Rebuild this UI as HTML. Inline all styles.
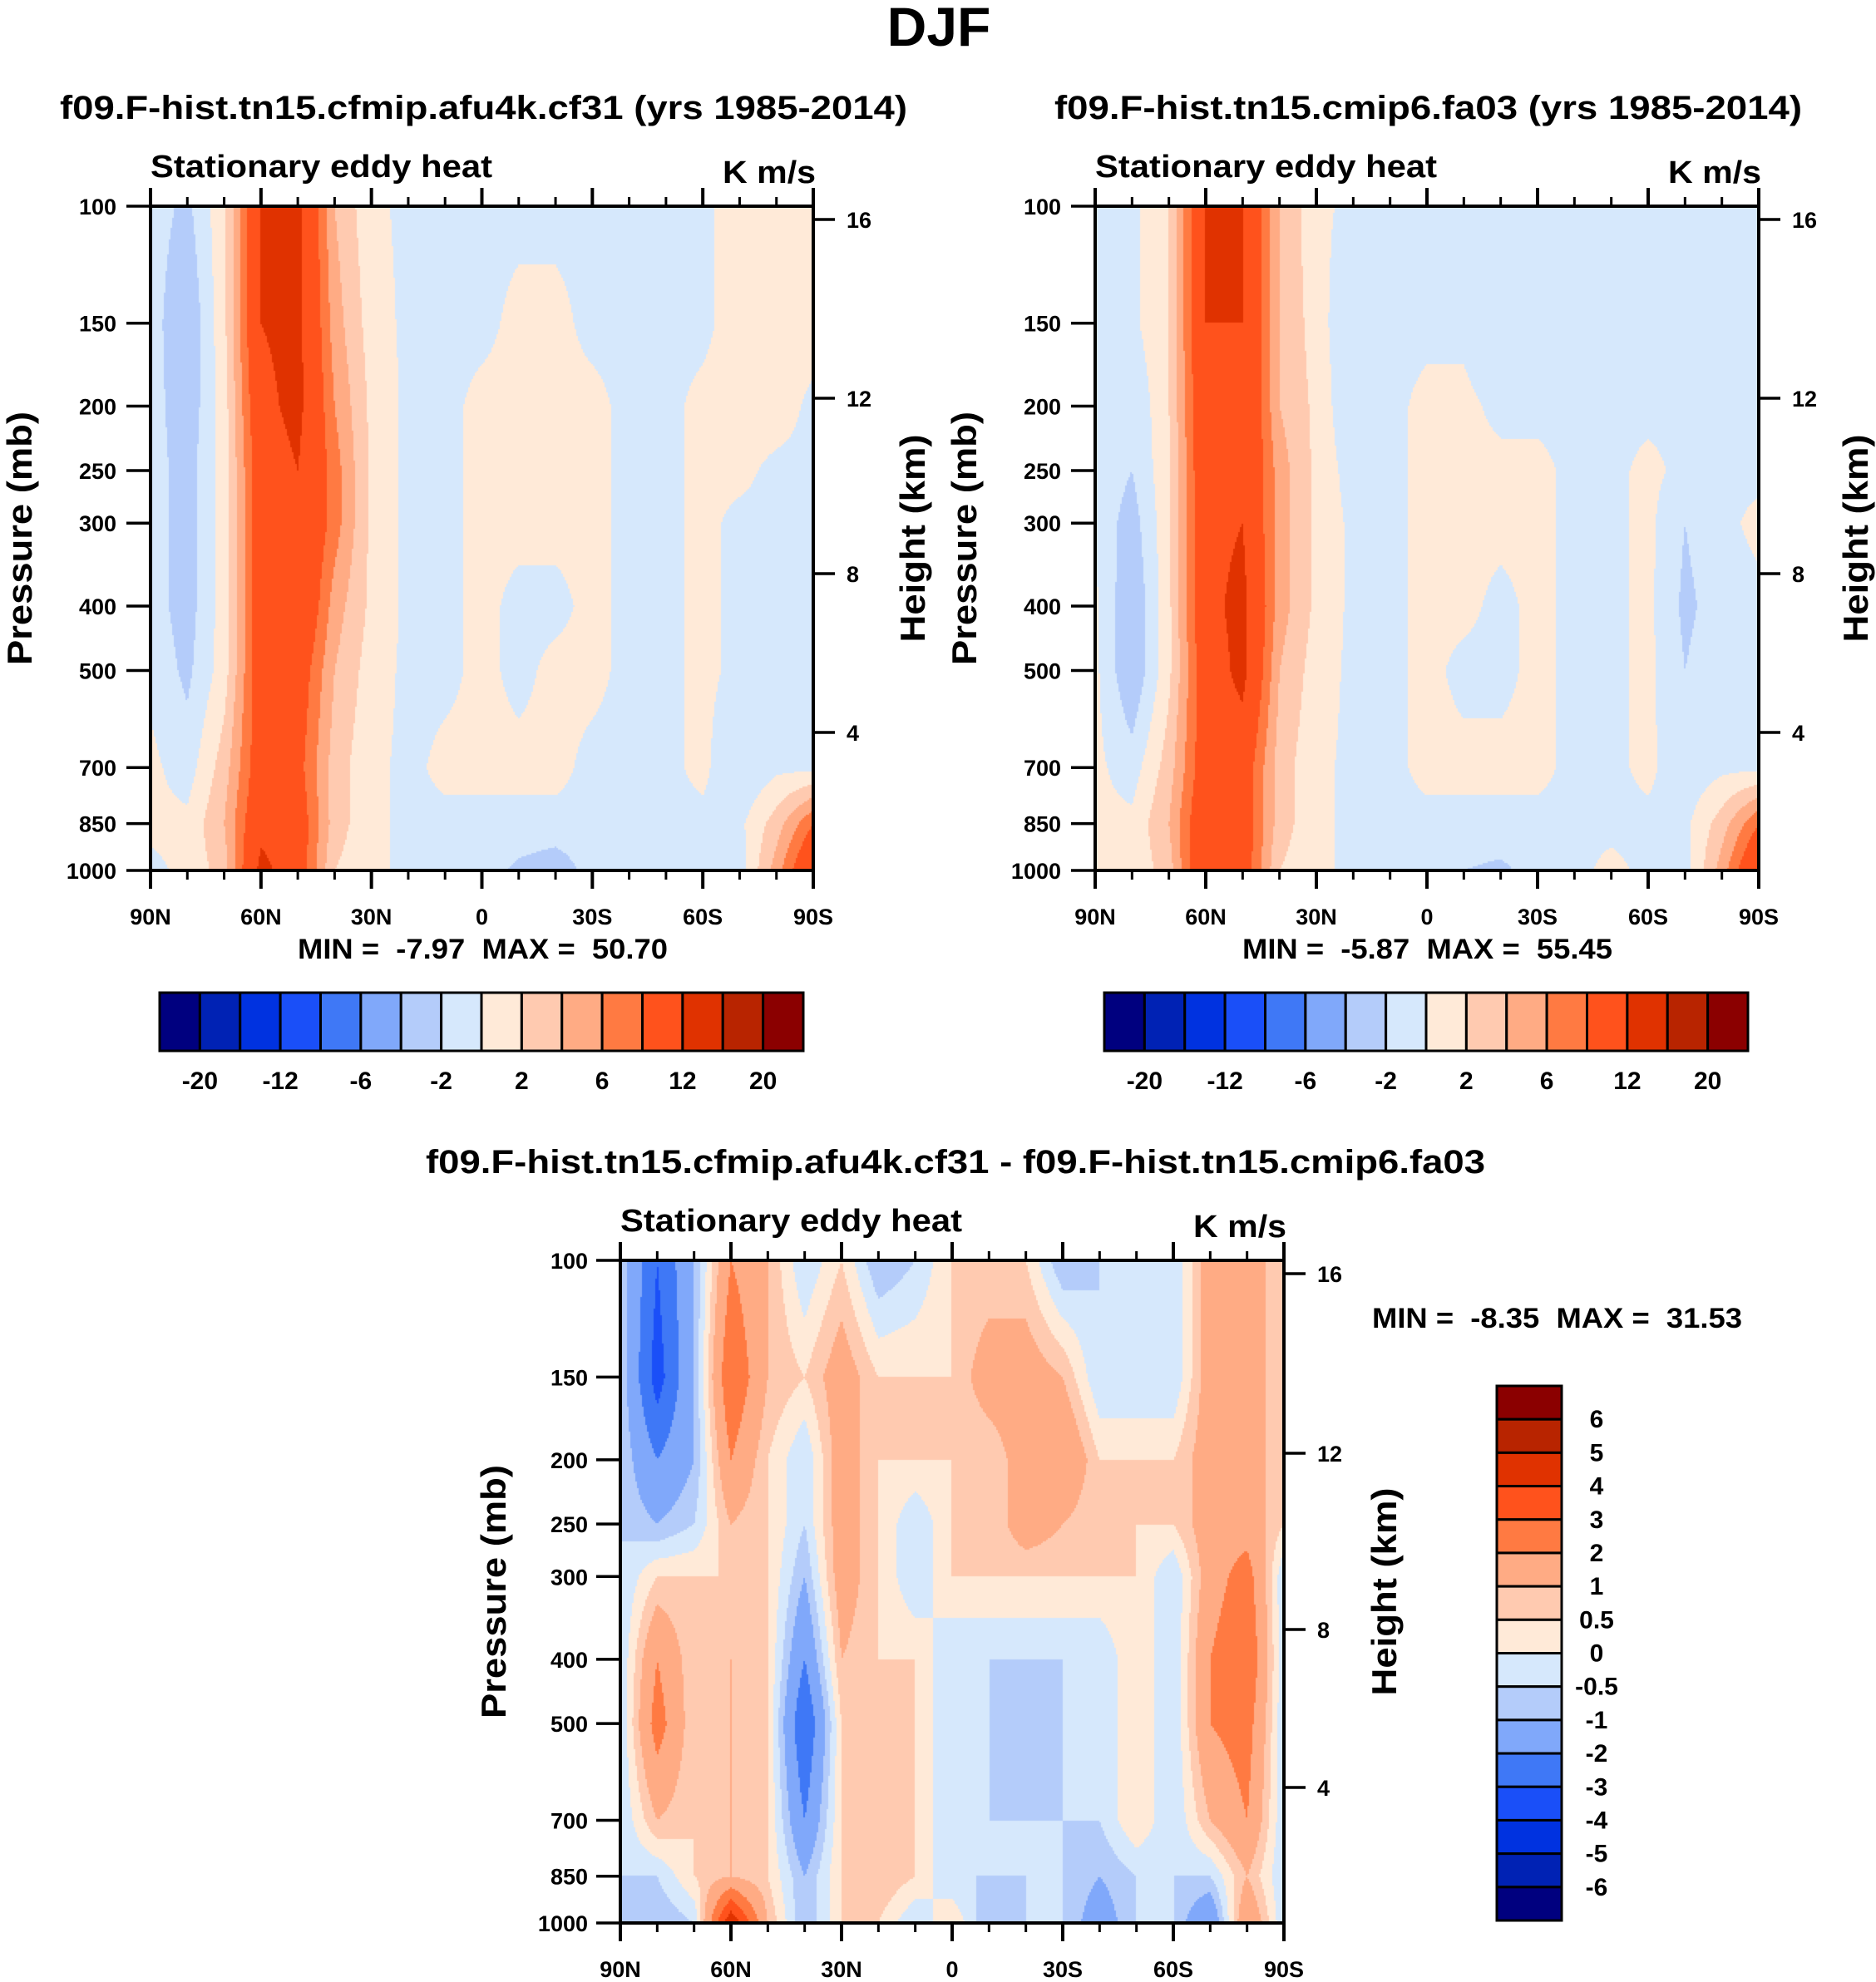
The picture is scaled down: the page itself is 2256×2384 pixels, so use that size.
<!DOCTYPE html>
<html><head><meta charset="utf-8"><style>
html,body{margin:0;padding:0;background:#fff;}
svg{display:block;font-family:"Liberation Sans",sans-serif;font-weight:bold;}
canvas{position:absolute;}
</style></head><body>
<div style="position:relative;width:2256px;height:2384px;overflow:hidden;">
<canvas id="c1" width="797" height="799" style="left:181px;top:248px"></canvas>
<canvas id="c2" width="798" height="799" style="left:1317px;top:248px"></canvas>
<canvas id="c3" width="798" height="797" style="left:746px;top:1516px"></canvas>
<svg id="s" width="2256" height="2384" style="position:absolute;left:0;top:0">
<text x="1129" y="55" font-size="66" text-anchor="middle">DJF</text>
</svg>
</div>
<script>
const lats=[90,80,70,60,50,40,30,20,10,0,-10,-20,-30,-40,-50,-60,-70,-80,-90];
const pres=[100,150,200,250,300,400,500,700,850,1000];
const presTicks=[100,150,200,250,300,400,500,700,850,1000];
const latTickLabels=["90N","60N","30N","0","30S","60S","90S"];
const heightTickLabels=["16","12","8","4"];
const absLevels=[-20,-16,-12,-8,-6,-4,-2,0,2,4,6,8,12,16,20];
const absLevelLabels=["-20","-12","-6","-2","2","6","12","20"];
const diffLevels=[-6,-5,-4,-3,-2,-1,-0.5,0,0.5,1,2,3,4,5,6];
const diffLevelLabels=["6","5","4","3","2","1","0.5","0","-0.5","-1","-2","-3","-4","-5","-6"];
const colors=["#00007f","#0022b4","#0032e0","#1a4ff8","#3f78f6","#80a8fa","#b4ccfa","#d6e8fc","#ffead8","#ffcab0","#ffab84","#ff7a42","#ff521c","#e03200","#b82400","#8b0000"];

const field1=[
[-1,-2.5,1.5,12,13,4,0.5,-0.5,-0.5,-0.5,-0.5,-0.5,-0.5,-0.5,-0.5,-0.5,1,1,1],
[-1,-4,1.5,12,13,5,1,-0.5,-0.5,-0.5,0.5,0.5,-0.5,-0.5,-0.5,-0.5,1,1,1],
[-1,-3.5,1,11,13,6,1.5,-0.5,-0.5,0.5,0.5,0.5,0.5,-0.5,-0.5,0.5,1,1,-0.5],
[-1,-3,1,10,12,7,1.5,-0.5,-0.5,0.5,0.5,0.5,0.5,-0.5,-0.5,0.5,0.5,-0.5,-0.5],
[-1,-3,1,10,12,7,1.5,-0.5,-0.5,0.5,0.5,0.5,0.5,-0.5,-0.5,0.5,-0.5,-0.5,-0.5],
[-1,-3,1,10,12,5,1.5,-0.5,-0.5,0.5,-0.5,-0.5,0.5,-0.5,-0.5,0.5,-0.5,-0.5,-0.5],
[-0.5,-2.5,1,10,10,4,1,-0.5,-0.5,0.5,-0.5,0.5,0.5,-0.5,-0.5,0.5,-0.5,-0.5,-0.5],
[0.5,-1,3,10,9,3,0.5,-0.5,0.5,0.5,0.5,0.5,-0.5,-0.5,-0.5,0.5,-2,-0.5,-0.5],
[0.5,0.5,4,11,10,3,0.5,-0.5,-0.5,-0.5,-0.5,-0.5,-0.5,-0.5,-0.5,-0.5,-0.5,3,8],
[-0.5,0.5,3,13,10,2,0.5,-0.5,-0.5,-1,-2.5,-3.5,-1,-0.5,-0.5,-0.5,-1,5,12]];
const field2=[
[-0.5,-0.5,2,12,12,4,0.5,-0.5,-0.5,-0.5,-0.5,-0.5,-0.5,-0.5,-0.5,-0.5,-0.5,-0.5,-0.5],
[-0.5,-0.5,2,12,12,4,1,-2,-0.5,-0.5,-0.5,-2,-0.5,-0.5,-0.5,-0.5,-0.5,-0.5,-0.5],
[-0.5,-2,2,11,12,4,1.5,-2,-0.5,0.5,0.5,-0.5,-0.5,-0.5,-0.5,-0.5,-0.5,-0.5,-0.5],
[-0.5,-2,1.5,11,12,5,1.5,-1,-0.5,0.5,0.5,0.5,0.5,-0.5,-0.5,0.5,-0.5,-0.5,-0.5],
[-0.5,-3,1.5,11,12,5,1.5,-0.5,-0.5,0.5,0.5,0.5,0.5,-0.5,-0.5,0.5,-2,-0.5,0.5],
[0.5,-4,1.5,11,13,5,1.5,-0.5,-0.5,0.5,0.5,-0.5,0.5,-0.5,-0.5,0.5,-2.5,-1,-0.5],
[0.5,-4,1.5,10,13,4,1,-0.5,-0.5,0.5,-0.5,-0.5,0.5,-0.5,-0.5,0.5,-2,-0.5,-0.5],
[0.5,-1,3,10,10,3,0.5,-0.5,-0.5,0.5,0.5,0.5,0.5,-0.5,-0.5,0.5,-1.5,-0.5,-0.5],
[0.5,0.5,4,11,10,3,0.5,-0.5,-0.5,-0.5,-0.5,-0.5,-0.5,-0.5,-0.5,-0.5,-0.5,3,8],
[0.5,0.5,3,12,10,2,0.5,-0.5,-0.5,-1,-2,-2.5,-1,-0.5,0.5,-0.5,-1,5,12]];
const field3=[
[-0.5,-3,-1,2,1,-0.5,0.5,-1,-0.5,0.5,0.5,0.5,-1,-0.5,-0.5,-0.5,1.5,1.5,0.5],
[-0.5,-3.5,-1,3,1,0.5,1.5,0.5,0.5,0.5,1.5,1.5,1,-0.5,-0.5,-0.5,1.5,1.5,0.5],
[-0.5,-2,-1,2,0.5,-0.5,1.5,0.5,0.5,0.5,0.5,1.5,2,0.5,0.5,0.5,1.5,1.5,0.5],
[-0.5,-1,-0.5,1,0.5,-0.5,1.5,0.5,-0.5,0.5,0.5,1.5,1,0.5,0.5,0.5,1.5,1.5,0.5],
[-0.5,0.5,0.5,0.5,0.5,-1,1.5,0.5,-0.5,0.5,0.5,0.5,0.5,0.5,0.5,-0.5,1.5,2.5,-0.5],
[-0.5,2,0.5,1,0.5,-2,1,0.5,0.5,-0.5,-0.5,-0.5,-0.5,-0.5,0.5,-0.5,2,3,-0.5],
[-0.5,2.5,0.5,1,0.5,-3,0.5,0.5,0.5,-0.5,-0.5,-1,-0.5,-0.5,0.5,-0.5,2,2.5,-0.5],
[-0.5,1,0.5,1,0.5,-2,0.5,0.5,0.5,-0.5,-0.5,-0.5,-0.5,-0.5,0.5,-0.5,1,2,-0.5],
[-0.5,-0.5,0.5,1,0.5,-1,0.5,1,0.5,-0.5,-0.5,-0.5,-0.5,-1,-0.5,-0.5,-0.5,1,-0.5],
[-1,-1,-0.5,5,1,-1,0.5,0.5,-0.5,0.5,-1,-0.5,-0.5,-1.5,-0.5,-0.5,-2,2,-0.5]];

function levelIndex(v,levels){let i=0;while(i<levels.length&&v>=levels[i])i++;return i;}
function sample(field,lat,p){
  let fi=(90-lat)/180*(lats.length-1);let i0=Math.min(Math.floor(fi),lats.length-2);let tx=fi-i0;
  let lp=Math.log(p);let j0=0;while(j0<pres.length-2&&Math.log(pres[j0+1])<lp)j0++;
  let ty=(lp-Math.log(pres[j0]))/(Math.log(pres[j0+1])-Math.log(pres[j0]));ty=Math.max(0,Math.min(1,ty));
  let a=field[j0][i0]*(1-tx)+field[j0][i0+1]*tx;let b=field[j0+1][i0]*(1-tx)+field[j0+1][i0+1]*tx;
  return a*(1-ty)+b*ty;
}
function drawField(id,field,levels){
  const c=document.getElementById(id),ctx=c.getContext('2d');const W=c.width,H=c.height,st=2;
  for(let y=0;y<H;y+=st){const p=Math.exp(Math.log(100)+(y+1)/H*Math.log(10));
    for(let x=0;x<W;x+=st){const lat=90-(x+1)/W*180;ctx.fillStyle=colors[levelIndex(sample(field,lat,p),levels)];ctx.fillRect(x,y,st,st);}}
}
drawField('c1',field1,absLevels);drawField('c2',field2,absLevels);drawField('c3',field3,diffLevels);

const NS="http://www.w3.org/2000/svg";const svg=document.getElementById('s');
function mk(tag,attrs,parent){const e=document.createElementNS(NS,tag);for(const k in attrs)e.setAttribute(k,attrs[k]);(parent||svg).appendChild(e);return e;}
function txt(x,y,s,size,anchor,extra){const e=mk('text',Object.assign({x:x,y:y,'font-size':size,'text-anchor':anchor||'start'},extra||{}));e.textContent=s;return e;}

function panel(L,R,T,B,sub,subX0,subX1,subY,minmax,mmX0,mmX1,mmY,hPos,leftLabX,pLabX,hLabX,xLabY){
  const xs=lat=>L+(90-lat)/180*(R-L);const ys=p=>T+Math.log(p/100)/Math.log(10)*(B-T);
  let e;
  e=txt(subX0,subY,sub,40,'start',{textLength:subX1-subX0,lengthAdjust:'spacingAndGlyphs'});
  
  
  e=txt(L,T-35,'Stationary eddy heat',38,'start',{textLength:411,lengthAdjust:'spacingAndGlyphs'});
  
  
  e=txt(R+3,T-28,'K m/s',38,'end',{textLength:112,lengthAdjust:'spacingAndGlyphs'});
  
  
  e=mk('rect',{x:L,y:T,width:R-L,height:B-T,fill:'none',stroke:'#000','stroke-width':4});
  
  
  for(let lat=90;lat>=-90;lat-=10){const x=xs(lat);const major=lat%30===0;const len=major?22:11;
    mk('line',{x1:x,y1:T,x2:x,y2:T-len,stroke:'#000','stroke-width':major?4:3});
    mk('line',{x1:x,y1:B,x2:x,y2:B+len,stroke:'#000','stroke-width':major?4:3});}
  latTickLabels.forEach((s,i)=>{e=txt(xs(90-30*i),xLabY,s,27,'middle');
    
    });
  presTicks.forEach(p=>{const y=ys(p);mk('line',{x1:L,y1:y,x2:L-29,y2:y,stroke:'#000','stroke-width':3.5});
    e=txt(leftLabX,y+10,String(p),27,'end');
    
    });
  heightTickLabels.forEach((s,i)=>{const y=hPos[i];mk('line',{x1:R,y1:y,x2:R+26,y2:y,stroke:'#000','stroke-width':3.5});
    e=txt(R+40,y+10,s,27,'start');
    
    });
  const cy=(T+B)/2;
  e=txt(pLabX,cy,'Pressure (mb)',42,'middle',{transform:'rotate(-90 '+pLabX+' '+cy+')',dy:15,textLength:305,lengthAdjust:'spacingAndGlyphs'});
  
  
  e=txt(hLabX,cy,'Height (km)',42,'middle',{transform:'rotate(-90 '+hLabX+' '+cy+')',dy:15,textLength:250,lengthAdjust:'spacingAndGlyphs'});
  
  
  e=txt(mmX0,mmY,minmax.replace(/ /g,'\u00a0'),34,'start',{textLength:mmX1-mmX0,lengthAdjust:'spacingAndGlyphs'});
  
  
}
panel(181,978,248,1047,'f09.F-hist.tn15.cfmip.afu4k.cf31 (yrs 1985-2014)',72,1091,143,'MIN =  -7.97  MAX =  50.70',358,803,1153,[264,479,690,881],140,23,1097,1112);
panel(1317,2115,248,1047,'f09.F-hist.tn15.cmip6.fa03 (yrs 1985-2014)',1268,2167,143,'MIN =  -5.87  MAX =  55.45',1494,1939,1153,[264,479,690,881],1276,1159,2231,1112);
panel(746,1544,1516,2313,'f09.F-hist.tn15.cfmip.afu4k.cf31 - f09.F-hist.tn15.cmip6.fa03',512,1786,1411,'MIN =  -8.35  MAX =  31.53',1650,2095,1597,[1532,1748,1960,2150],707,593,1664,2378);

function hbar(x0,x1,y0,y1){const w=(x1-x0)/colors.length;let e;
  colors.forEach((c,i)=>{e=mk('rect',{x:x0+i*w,y:y0,width:w,height:y1-y0,fill:c,stroke:'#000','stroke-width':3});
    
    });
  absLevelLabels.forEach((s,i)=>{e=txt(x0+(2*i+1)*w,1310,s,30,'middle');
    
    });
}
hbar(192,966,1194,1264);hbar(1328,2102,1194,1264);
(function(){const x0=1800,x1=1878,y0=1667,y1=2310,h=(y1-y0)/colors.length;let e;
  colors.slice().reverse().forEach((c,i)=>{e=mk('rect',{x:x0,y:y0+i*h,width:x1-x0,height:h,fill:c,stroke:'#000','stroke-width':3});
    
    });
  diffLevelLabels.forEach((s,i)=>{e=txt(1920,y0+(i+1)*h+10,s,30,'middle');
    
    });
})();
</script>
</body></html>
